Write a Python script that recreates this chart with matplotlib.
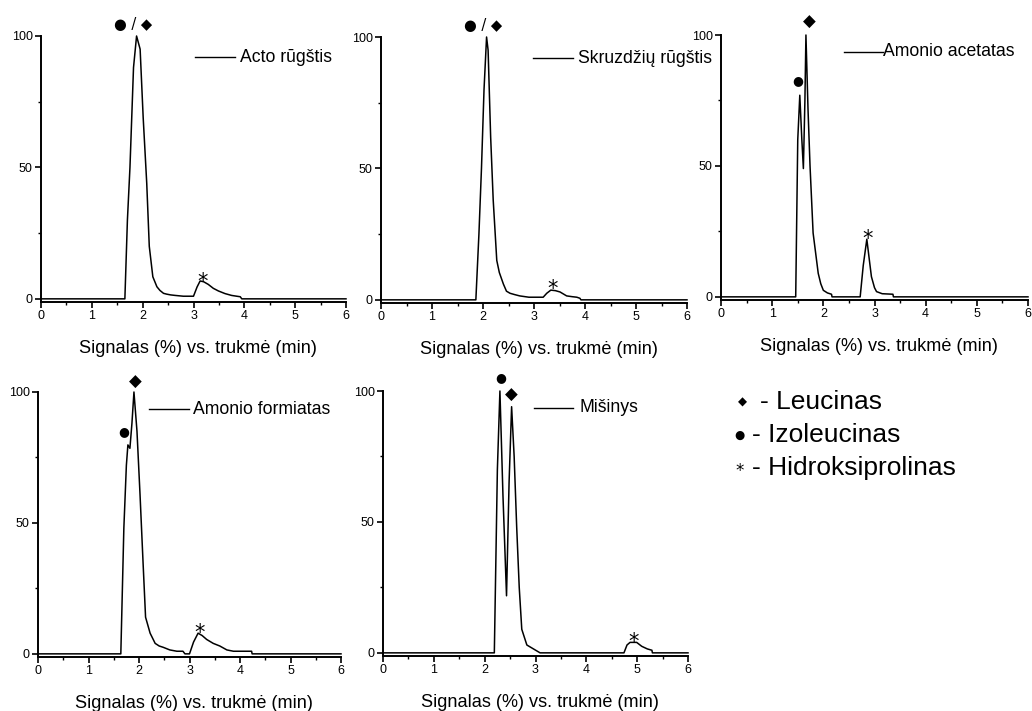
import matplotlib
matplotlib.use("Agg")
import matplotlib.pyplot as plt
from matplotlib.ticker import MultipleLocator

plt.rcParams['font.family'] = ['Liberation Sans', 'DejaVu Sans']

# ---- data (time in min, signal in %) ----
acto_t = [0, 1.65, 1.70, 1.75, 1.82, 1.88, 1.95, 2.01, 2.08, 2.13, 2.20, 2.28, 2.34, 2.41, 2.47, 2.55, 2.64, 2.80, 3.00, 3.07, 3.13, 3.20, 3.29, 3.39, 3.49, 3.62, 3.75, 3.85, 3.92, 3.95, 6]
acto_v = [0, 0, 30, 50, 88, 100, 95, 69, 44, 20, 8.4, 4.6, 3.2, 2.1, 1.8, 1.5, 1.3, 1.0, 1.0, 4.5, 6.8, 6.5, 5.5, 4.0, 3.0, 2.0, 1.3, 1.0, 0.8, 0, 0]

skr_t = [0, 1.86, 1.92, 1.97, 2.02, 2.07, 2.10, 2.15, 2.20, 2.27, 2.32, 2.40, 2.46, 2.53, 2.62, 2.72, 2.90, 3.18, 3.25, 3.33, 3.42, 3.51, 3.64, 3.75, 3.84, 3.90, 3.92, 6]
skr_v = [0, 0, 25, 50, 80, 100, 95, 62, 38, 15, 10.4, 6, 3.3, 2.5, 2.0, 1.5, 1.0, 1.0, 2.5, 3.7, 3.5, 3.0, 1.5, 1.2, 1.0, 0.6, 0, 0]

acet_t = [0, 1.46, 1.50, 1.54, 1.58, 1.61, 1.64, 1.66, 1.70, 1.74, 1.80, 1.90, 1.95, 2.00, 2.08, 2.16, 2.17, 2.72, 2.78, 2.85, 2.90, 2.94, 3.00, 3.04, 3.15, 3.36, 3.37, 6]
acet_v = [0, 0, 60, 77, 60, 49, 75, 100, 72, 50, 24.4, 9, 5, 2.5, 1.5, 1.0, 0, 0, 12, 22, 14, 7.7, 3.5, 2.0, 1.2, 1.0, 0, 0]

form_t = [0, 1.64, 1.70, 1.75, 1.78, 1.82, 1.86, 1.90, 1.96, 2.02, 2.08, 2.13, 2.22, 2.32, 2.40, 2.48, 2.61, 2.75, 2.87, 2.91, 2.96, 3.00, 3.08, 3.17, 3.25, 3.34, 3.47, 3.60, 3.74, 3.87, 4.23, 4.24, 6]
form_v = [0, 0, 48, 72, 79.8, 78.5, 88, 100, 85, 61, 35, 14, 7.9, 4, 3, 2.5, 1.5, 1.0, 1.0, 0, 0, 0, 4.5, 7.9, 7.0, 5.5, 4.0, 3.0, 1.5, 1.0, 1.0, 0, 0]

mix_t = [0, 2.19, 2.25, 2.30, 2.36, 2.43, 2.48, 2.53, 2.58, 2.63, 2.68, 2.73, 2.83, 2.96, 3.09, 4.74, 4.80, 4.86, 4.99, 5.09, 5.20, 5.29, 5.30, 6]
mix_v = [0, 0, 70, 100, 60, 21.8, 65, 94, 75, 48, 25, 9, 3, 1.5, 0, 0, 3.0, 4.0, 4.0, 2.5, 1.5, 1.0, 0, 0]

titles = ["Acto rūgštis", "Skruzdžių rūgštis", "Amonio acetatas", "Amonio formiatas", "Mišinys"]
series_t = [acto_t, skr_t, acet_t, form_t, mix_t]
series_v = [acto_v, skr_v, acet_v, form_v, mix_v]

# peak annotations: (text, time, signal)
annots = [
    [("● / ◆", 1.81, 104.5), ("*", 3.17, 9.0)],
    [("● / ◆", 2.00, 104.5), ("*", 3.37, 6.5)],
    [("●", 1.50, 82.5), ("◆", 1.72, 105), ("*", 2.86, 24.5)],
    [("●", 1.70, 85), ("◆", 1.92, 104), ("*", 3.19, 10.5)],
    [("●", 2.32, 105), ("◆", 2.52, 98.5), ("*", 4.93, 6.5)],
]

xlabel = "Signalas (%) vs. trukmė (min)"
key_items = [("◆", "- Leucinas"), ("●", "- Izoleucinas"), ("*", "- Hidroksiprolinas")]

W, H = 1032, 711
fig = plt.figure(figsize=(W / 100, H / 100), dpi=100)

# axes boxes in pixels: left, right, top(y=100), bottom(spine)
boxes = [
    (41, 346, 36, 302),
    (381, 687, 37, 303),
    (721, 1028, 35, 300),
    (38, 341, 392, 657),
    (383, 688, 391, 656),
]
# legend key positions in axes fraction: line x0, x1, text x, y
leg_pos = [
    (0.505, 0.636, 0.652, 0.92),
    (0.497, 0.627, 0.645, 0.92),
    (0.400, 0.528, 0.528, 0.937),
    (0.366, 0.498, 0.512, 0.935),
    (0.495, 0.624, 0.643, 0.936),
]

for i, (l, r, t, b) in enumerate(boxes):
    ax = fig.add_axes([l / W, 1 - b / H, (r - l) / W, (b - t) / H])
    ax.plot(series_t[i], series_v[i], color='black', lw=1.1, clip_on=False)
    ax.set_xlim(0, 6)
    ax.set_ylim(-1.2, 100)
    for s in ['top', 'right']:
        ax.spines[s].set_visible(False)
    for s in ['left', 'bottom']:
        ax.spines[s].set_linewidth(1.4)
    ax.set_xticks(range(0, 7))
    ax.xaxis.set_minor_locator(MultipleLocator(0.5))
    ax.set_yticks([0, 50, 100])
    ax.yaxis.set_minor_locator(MultipleLocator(25))
    ax.tick_params(axis='both', which='major', direction='out', length=4, width=1.2,
                   labelsize=9, pad=2)
    ax.tick_params(axis='both', which='minor', direction='out', length=2.5, width=1.0)
    ax.text(0.515, -0.175, xlabel, transform=ax.transAxes, ha='center', va='center',
            fontsize=13.1)
    x0, x1, tx, ty = leg_pos[i]
    ax.plot([x0, x1], [ty, ty], color='black', lw=1.0, transform=ax.transAxes, clip_on=False)
    ax.text(tx, ty, titles[i], transform=ax.transAxes, ha='left', va='center',
            fontsize=12.7, clip_on=False)
    for (txt, xt, yv) in annots[i]:
        if txt == "*":
            fs, yy = 15, yv - 2.5
        elif txt == "●":
            fs, yy = 9, yv
        elif txt == "◆":
            fs, yy = 12, yv
        else:
            fs, yy = 10.5, yv
        ax.text(xt, yy, txt, ha='center', va='center', fontsize=fs, clip_on=False,
                family=['DejaVu Sans'])

# key
key_y = [401.7, 435, 468]
sym_x = [742, 739, 739.5]
txt_x = [760, 751.5, 751.5]
for (sym, lab), yk, sx, tx in zip(key_items, key_y, sym_x, txt_x):
    fs = 12 if sym == "*" else 8.5
    fig.text(sx / W, 1 - (yk + (3 if sym == "*" else 0)) / H, sym, ha='center', va='center',
             fontsize=fs, family=['DejaVu Sans'])
    fig.text(tx / W, 1 - yk / H, lab, ha='left', va='center', fontsize=19)

fig.savefig("out.png", dpi=100)
